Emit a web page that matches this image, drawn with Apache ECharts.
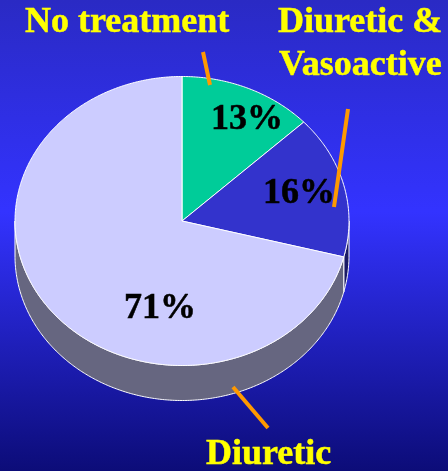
<!DOCTYPE html>
<html>
<head>
<meta charset="utf-8">
<style>
  html, body { margin: 0; padding: 0; background: #2a2ac8; }
  #chart { width: 448px; height: 471px; }
</style>
<script src="https://cdn.jsdelivr.net/npm/echarts@6/dist/echarts.min.js"></script>
</head>
<body>
<div id="chart"></div>
<script>
const categories = ['No treatment', 'Diuretic & Vasoactive', 'Diuretic'];
const shares = [13, 16, 71];

const topColors = ['#00cc99', '#3333cc', '#ccccff'];
const sideColors = ['#007a5c', '#1a1a66', '#666680'];
const valueAnchors = [[247, 120], [299, 194], [160, 309]];

const cx = 182, cy = 221, rx = 167, ry = 144.5, depth = 35;
const total = shares.reduce((a, b) => a + b, 0);

// clockwise from 12 o'clock, in radians
function sliceAngles(index) {
  const before = shares.slice(0, index).reduce((a, b) => a + b, 0);
  return [before / total * 2 * Math.PI, (before + shares[index]) / total * 2 * Math.PI];
}

function arcPoints(a0, a1, offsetY) {
  const steps = Math.max(2, Math.ceil((a1 - a0) / 0.01));
  const points = [];
  for (let i = 0; i <= steps; i++) {
    const a = a0 + (a1 - a0) * i / steps;
    points.push([cx + rx * Math.sin(a), cy - ry * Math.cos(a) + offsetY]);
  }
  return points;
}

function renderSide(params, api) {
  const index = api.value(0);
  const angles = sliceAngles(index);
  // only the part on the front half of the disc is visible
  const a0 = Math.max(angles[0], Math.PI / 2);
  const a1 = Math.min(angles[1], Math.PI * 3 / 2);
  if (a1 <= a0) {
    return null;
  }
  const points = arcPoints(a0, a1, 0).concat(arcPoints(a0, a1, depth).reverse());
  return {
    type: 'polygon',
    shape: {points: points},
    style: {fill: sideColors[index], stroke: '#ffffff', lineWidth: 1},
  };
}

function renderTop(params, api) {
  const index = api.value(0);
  const angles = sliceAngles(index);
  return {
    type: 'polygon',
    shape: {points: [[cx, cy]].concat(arcPoints(angles[0], angles[1], 0))},
    style: {fill: topColors[index], stroke: '#ffffff', lineWidth: 1},
  };
}

function renderValue(params, api) {
  const index = api.value(0);
  return {
    type: 'text',
    x: valueAnchors[index][0],
    y: valueAnchors[index][1],
    style: {
      text: api.value(1) + '%',
      fill: '#000000',
      stroke: '#000000',
      lineWidth: 0.5,
      font: 'bold 36px "Liberation Serif"',
      align: 'center',
      verticalAlign: 'middle',
    },
  };
}

function caption(text, x, y) {
  return {
    type: 'text',
    x: x,
    y: y,
    z: 10,
    style: {
      text: text,
      fill: '#ffff00',
      stroke: '#ffff00',
      lineWidth: 0.5,
      font: 'bold 36px "Liberation Serif"',
      align: 'left',
      verticalAlign: 'top',
    },
  };
}

function leader(x1, y1, x2, y2) {
  return {
    type: 'line',
    z: 10,
    shape: {x1: x1, y1: y1, x2: x2, y2: y2},
    style: {stroke: '#ff9900', lineWidth: 4},
  };
}

const sliceData = shares.map((share, index) => [index, share, categories[index]]);

const chart = echarts.init(document.getElementById('chart'), null, {renderer: 'canvas'});
chart.setOption({
  animation: false,
  backgroundColor: new echarts.graphic.LinearGradient(0, 0, 0, 1, [
    {offset: 0, color: '#2a2ac4'},
    {offset: 0.45, color: '#3333ff'},
    {offset: 1, color: '#0c0c78'},
  ]),
  series: [
    {type: 'custom', coordinateSystem: 'none', data: sliceData, renderItem: renderSide, z: 1},
    {type: 'custom', coordinateSystem: 'none', data: sliceData, renderItem: renderTop, z: 2},
    {type: 'custom', coordinateSystem: 'none', data: sliceData, renderItem: renderValue, z: 3},
  ],
  graphic: [
    caption('No treatment', 25, 5),
    caption('Diuretic &', 278, 5),
    caption('Vasoactive', 279, 48),
    caption('Diuretic', 206, 437),
    leader(203, 52, 210, 85),
    leader(348, 109, 334, 207),
    leader(233, 387, 268, 428),
  ],
});
</script>
</body>
</html>
